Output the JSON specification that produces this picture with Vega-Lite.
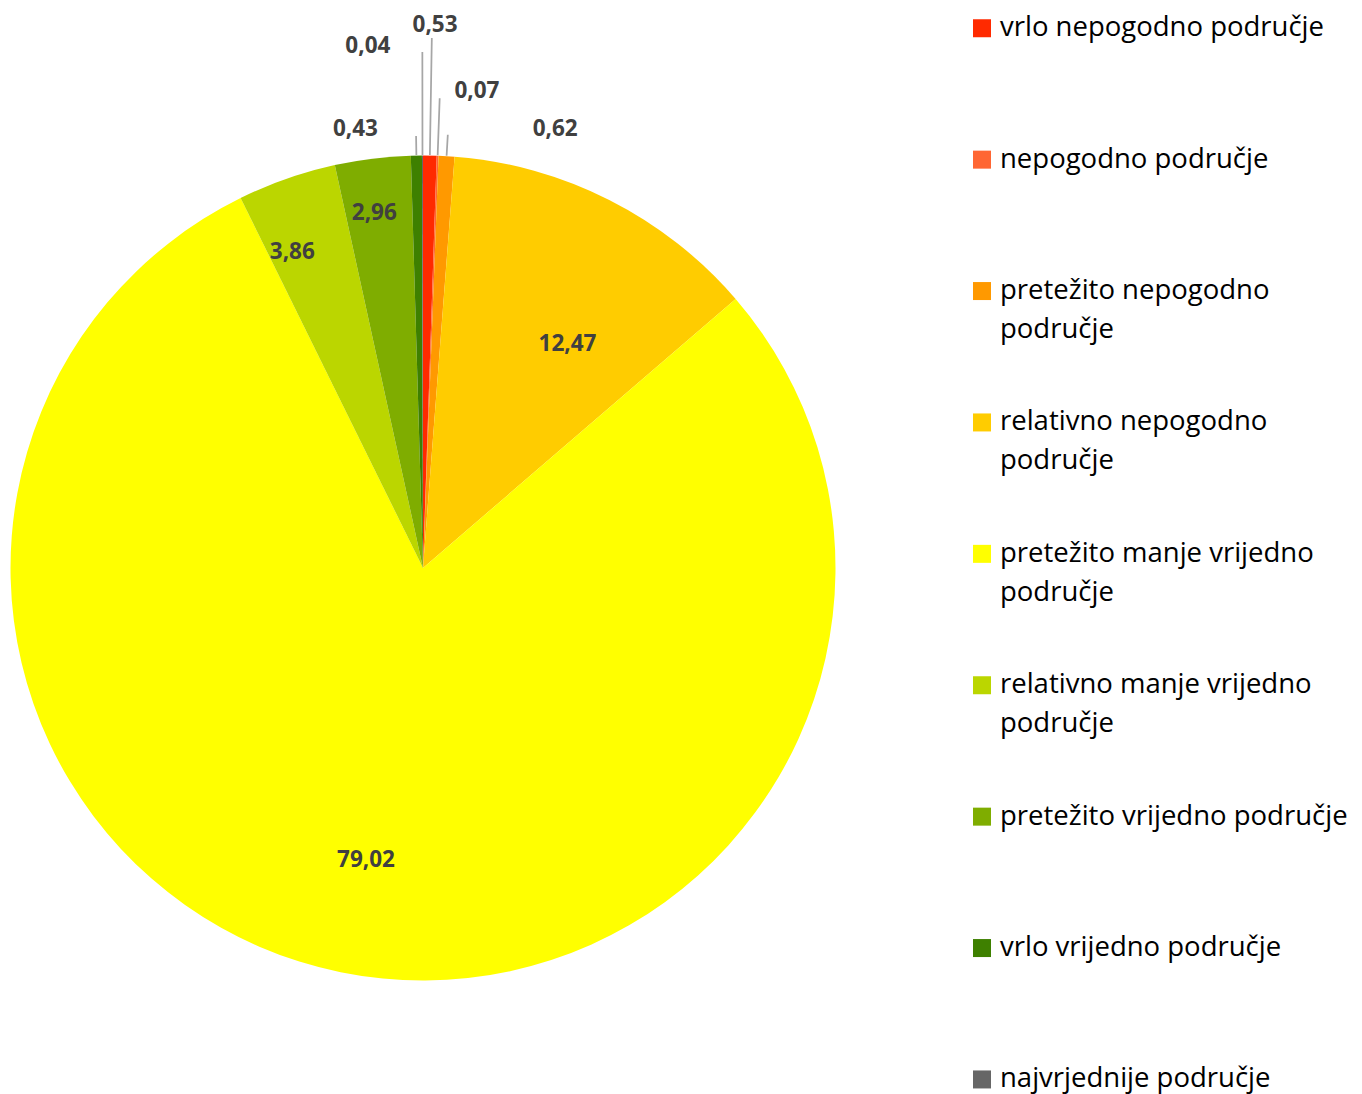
{
  "$schema": "https://vega.github.io/schema/vega-lite/v6.json",
  "width": 846,
  "height": 1052,
  "autosize": {"type": "none"},
  "padding": {"top": 42, "left": 0, "right": 516, "bottom": 0},
  "background": "white",
  "config": {
    "view": {"stroke": null},
    "locale": {"number": {"decimal": ",", "thousands": ".", "grouping": [3], "currency": ["", " €"]}},
    "style": {"guide-label": {"lineHeight": 39}}
  },
  "data": {
    "values": [
      {"cat": "vrlo nepogodno područje", "value": 0.53, "rank": 1},
      {"cat": "nepogodno područje", "value": 0.07, "rank": 2},
      {"cat": "pretežito nepogodno područje", "value": 0.62, "rank": 3},
      {"cat": "relativno nepogodno područje", "value": 12.47, "rank": 4},
      {"cat": "pretežito manje vrijedno područje", "value": 79.02, "rank": 5},
      {"cat": "relativno manje vrijedno područje", "value": 3.86, "rank": 6},
      {"cat": "pretežito vrijedno područje", "value": 2.96, "rank": 7},
      {"cat": "vrlo vrijedno područje", "value": 0.43, "rank": 8},
      {"cat": "najvrjednije područje", "value": 0.04, "rank": 9}
    ]
  },
  "encoding": {
    "theta": {"field": "value", "type": "quantitative", "stack": true},
    "order": {"field": "rank", "type": "quantitative"},
    "detail": {"field": "cat", "type": "nominal"}
  },
  "layer": [
    {
      "mark": {"type": "arc", "outerRadius": 412.5, "strokeWidth": 0},
      "encoding": {
        "color": {
          "field": "cat",
          "type": "nominal",
          "scale": {
            "domain": ["vrlo nepogodno područje", "nepogodno područje", "pretežito nepogodno područje", "relativno nepogodno područje", "pretežito manje vrijedno područje", "relativno manje vrijedno područje", "pretežito vrijedno područje", "vrlo vrijedno područje", "najvrjednije područje"],
            "range": ["#FF2A00", "#FF6633", "#FF9900", "#FFCC00", "#FFFF00", "#BBD600", "#7FAD00", "#3E8000", "#666666"]
          },
          "legend": {
            "orient": "none",
            "legendX": 968.25,
            "legendY": -27.5,
            "title": null,
            "padding": 0,
            "symbolType": "square",
            "symbolSize": 324,
            "symbolStrokeWidth": 0,
            "labelFont": "Open Sans",
            "labelFontSize": 27.5,
            "labelColor": "#000000",
            "labelLimit": 600,
            "labelOffset": 4.25,
            "rowPadding": 63.4,
            "labelBaseline": "middle",
            "labelExpr": "length(datum.label) > 27 ? [substring(datum.label, 0, lastindexof(datum.label, ' ')), substring(datum.label, lastindexof(datum.label, ' ') + 1)] : [datum.label, '']"
          }
        }
      }
    },
    {
      "mark": {"type": "arc", "innerRadius": 413, "outerRadius": 530, "padAngle": 0.3, "filled": false, "stroke": "#A6A6A6", "strokeWidth": 1.75},
      "encoding": {"strokeOpacity": {"condition": {"test": "datum.cat === 'vrlo nepogodno područje'", "value": 1}, "value": 0}}
    },
    {
      "mark": {"type": "arc", "innerRadius": 413, "outerRadius": 470, "padAngle": 0.3, "filled": false, "stroke": "#A6A6A6", "strokeWidth": 1.75},
      "encoding": {"strokeOpacity": {"condition": {"test": "datum.cat === 'nepogodno područje'", "value": 1}, "value": 0}}
    },
    {
      "mark": {"type": "arc", "innerRadius": 413, "outerRadius": 434, "padAngle": 0.3, "filled": false, "stroke": "#A6A6A6", "strokeWidth": 1.75},
      "encoding": {"strokeOpacity": {"condition": {"test": "datum.cat === 'pretežito nepogodno područje'", "value": 1}, "value": 0}}
    },
    {
      "mark": {"type": "arc", "innerRadius": 413, "outerRadius": 432, "padAngle": 0.3, "filled": false, "stroke": "#A6A6A6", "strokeWidth": 1.75},
      "encoding": {"strokeOpacity": {"condition": {"test": "datum.cat === 'vrlo vrijedno područje'", "value": 1}, "value": 0}}
    },
    {
      "mark": {"type": "arc", "innerRadius": 413, "outerRadius": 516, "padAngle": 0.3, "filled": false, "stroke": "#A6A6A6", "strokeWidth": 1.75},
      "encoding": {"strokeOpacity": {"condition": {"test": "datum.cat === 'najvrjednije područje'", "value": 1}, "value": 0}}
    },
    {
      "mark": {"type": "text", "radius": 543, "dx": 3, "font": "Open Sans", "fontSize": 22.5, "fontWeight": "bold", "fill": "#404040", "align": "center", "baseline": "middle"},
      "encoding": {"text": {"condition": {"test": "datum.cat === 'vrlo nepogodno područje'", "field": "value", "type": "quantitative", "format": ".2f"}, "value": ""}}
    },
    {
      "mark": {"type": "text", "radius": 477, "dx": 37, "font": "Open Sans", "fontSize": 22.5, "fontWeight": "bold", "fill": "#404040", "align": "center", "baseline": "middle"},
      "encoding": {"text": {"condition": {"test": "datum.cat === 'nepogodno područje'", "field": "value", "type": "quantitative", "format": ".2f"}, "value": ""}}
    },
    {
      "mark": {"type": "text", "radius": 440, "dx": 107, "font": "Open Sans", "fontSize": 22.5, "fontWeight": "bold", "fill": "#404040", "align": "center", "baseline": "middle"},
      "encoding": {"text": {"condition": {"test": "datum.cat === 'pretežito nepogodno područje'", "field": "value", "type": "quantitative", "format": ".2f"}, "value": ""}}
    },
    {
      "mark": {"type": "text", "radius": 251.5, "dx": 31, "font": "Open Sans", "fontSize": 22.5, "fontWeight": "bold", "fill": "#404040", "align": "center", "baseline": "middle"},
      "encoding": {"text": {"condition": {"test": "datum.cat === 'relativno nepogodno područje'", "field": "value", "type": "quantitative", "format": ".2f"}, "value": ""}}
    },
    {
      "mark": {"type": "text", "radius": 298, "dx": 2.5, "font": "Open Sans", "fontSize": 22.5, "fontWeight": "bold", "fill": "#404040", "align": "center", "baseline": "middle"},
      "encoding": {"text": {"condition": {"test": "datum.cat === 'pretežito manje vrijedno područje'", "field": "value", "type": "quantitative", "format": ".2f"}, "value": ""}}
    },
    {
      "mark": {"type": "text", "radius": 335, "dx": -20, "font": "Open Sans", "fontSize": 22.5, "fontWeight": "bold", "fill": "#404040", "align": "center", "baseline": "middle"},
      "encoding": {"text": {"condition": {"test": "datum.cat === 'relativno manje vrijedno područje'", "field": "value", "type": "quantitative", "format": ".2f"}, "value": ""}}
    },
    {
      "mark": {"type": "text", "radius": 357.5, "dx": -5, "font": "Open Sans", "fontSize": 22.5, "fontWeight": "bold", "fill": "#404040", "align": "center", "baseline": "middle"},
      "encoding": {"text": {"condition": {"test": "datum.cat === 'pretežito vrijedno područje'", "field": "value", "type": "quantitative", "format": ".2f"}, "value": ""}}
    },
    {
      "mark": {"type": "text", "radius": 439.5, "dx": -60.5, "font": "Open Sans", "fontSize": 22.5, "fontWeight": "bold", "fill": "#404040", "align": "center", "baseline": "middle"},
      "encoding": {"text": {"condition": {"test": "datum.cat === 'vrlo vrijedno područje'", "field": "value", "type": "quantitative", "format": ".2f"}, "value": ""}}
    },
    {
      "mark": {"type": "text", "radius": 522, "dx": -54.5, "font": "Open Sans", "fontSize": 22.5, "fontWeight": "bold", "fill": "#404040", "align": "center", "baseline": "middle"},
      "encoding": {"text": {"condition": {"test": "datum.cat === 'najvrjednije područje'", "field": "value", "type": "quantitative", "format": ".2f"}, "value": ""}}
    }
  ]
}
